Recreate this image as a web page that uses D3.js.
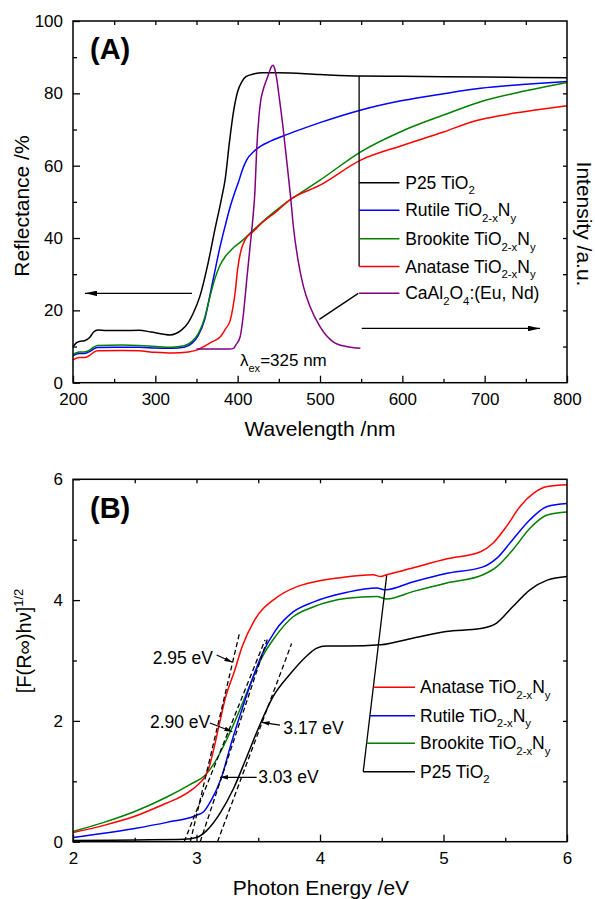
<!DOCTYPE html>
<html><head><meta charset="utf-8">
<script src="https://cdn.jsdelivr.net/npm/d3@7"></script>
<style>
body{margin:0;background:#fff;}
svg{display:block;font-family:"Liberation Sans",Arial,Helvetica,sans-serif;}
</style></head><body>
<svg id="c" width="595" height="899"></svg>
<script>
// ---------- Panel A data (wavelength nm, reflectance %) ----------
const wavelengthMajor = [200,300,400,500,600,700,800];
const wavelengthMinor = [250,350,450,550,650,750];
const reflMajor = [0,20,40,60,80,100];
const reflMinor = [10,30,50,70,90];

const p25Refl = [[200,9.9],[204,11.0],[208,11.4],[214,11.6],[220,12.4],[225,14.0],[230,14.6],[240,14.4],[260,14.4],[280,14.5],[295,14.0],[310,13.4],[318,13.2],[325,13.6],[332,14.6],[340,16.6],[346,19.2],[354,23.8],[364,33.0],[372,42.0],[380,50.5],[385,56.5],[390,66.5],[395,75.0],[400,80.5],[405,83.2],[410,84.6],[420,85.4],[430,85.7],[450,85.7],[500,85.2],[550,84.8],[600,84.7],[700,84.5],[800,84.3]];
const rutileRefl = [[200,7.4],[204,7.9],[208,8.1],[214,8.1],[220,8.6],[225,9.3],[230,9.7],[250,9.8],[280,9.8],[300,9.6],[320,9.5],[335,9.8],[345,11.0],[352,13.0],[360,17.5],[366,23.8],[372,30.5],[378,37.0],[385,43.5],[391,48.7],[396,52.3],[401,55.5],[406,59.0],[411,61.6],[420,64.0],[428,65.4],[440,66.8],[455,68.2],[475,69.9],[500,71.9],[550,75.4],[600,78.0],[650,79.9],[695,81.4],[750,82.5],[800,83.3]];
const brookiteRefl = [[200,7.8],[204,8.3],[208,8.5],[214,8.5],[220,9.0],[225,9.8],[230,10.3],[260,10.4],[280,10.3],[300,10.0],[320,9.8],[335,10.2],[345,11.5],[352,13.5],[360,18.0],[366,23.5],[372,28.5],[378,32.2],[385,34.9],[391,36.4],[396,37.6],[403,38.8],[419,42.2],[447,47.7],[463,50.5],[476,52.4],[500,56.0],[550,63.9],[600,69.6],[650,74.0],[695,77.7],[750,80.7],[800,83.0]];
const anataseRefl = [[200,6.3],[204,6.8],[208,7.0],[214,7.0],[220,7.5],[225,8.4],[230,8.8],[260,8.9],[280,8.8],[300,8.4],[320,8.2],[340,8.5],[350,9.0],[362,10.4],[370,11.4],[379,12.7],[385,14.8],[391,17.3],[394,20.5],[397,25.0],[400,31.5],[404,36.5],[409,39.5],[419,41.8],[430,44.3],[447,47.3],[463,50.5],[500,54.6],[550,61.6],[600,65.6],[650,69.3],[686,72.2],[702,73.1],[750,75.0],[800,76.6]];
const caAlEmission = [[350,9.3],[370,9.3],[390,9.3],[395,9.5],[398,10.5],[403,12.7],[407,19.0],[411,28.4],[415,37.5],[419,46.8],[421,53.0],[423,64.0],[426,74.0],[428,78.0],[431,81.0],[435,83.7],[438,85.6],[441,87.4],[443,87.8],[445,86.8],[447,84.6],[451,78.0],[455,70.8],[459,62.5],[464,52.0],[468,42.5],[474,33.0],[480,26.5],[488,21.0],[500,15.5],[516,11.3],[532,10.0],[549,9.5]];

// ---------- Panel B data (photon energy eV, [F(R)hv]^1/2) ----------
const energyMajor = [2,3,4,5,6];
const energyMinor = [2.5,3.5,4.5,5.5];
const kmMajor = [0,2,4,6];
const kmMinor = [1,3,5];

const anataseF = [[2.0,0.15],[2.25,0.27],[2.5,0.42],[2.76,0.64],[2.83,0.70],[2.95,0.84],[3.02,0.96],[3.07,1.08],[3.10,1.22],[3.13,1.45],[3.18,1.90],[3.23,2.35],[3.31,2.84],[3.37,3.23],[3.47,3.67],[3.64,4.03],[3.80,4.21],[3.95,4.30],[4.16,4.37],[4.43,4.42],[4.49,4.39],[4.54,4.42],[4.75,4.53],[5.02,4.68],[5.30,4.80],[5.40,4.94],[5.51,5.22],[5.62,5.55],[5.73,5.77],[5.84,5.88],[6.0,5.91]];
const rutileF = [[2.0,0.07],[2.25,0.14],[2.5,0.22],[2.76,0.32],[2.99,0.43],[3.06,0.50],[3.12,0.69],[3.20,1.05],[3.28,1.62],[3.37,2.20],[3.45,2.68],[3.53,3.10],[3.64,3.50],[3.78,3.80],[3.95,3.97],[4.22,4.13],[4.46,4.20],[4.53,4.17],[4.75,4.30],[5.02,4.44],[5.32,4.55],[5.43,4.69],[5.56,5.00],[5.70,5.33],[5.84,5.55],[6.0,5.60]];
const brookiteF = [[2.0,0.17],[2.25,0.32],[2.5,0.50],[2.76,0.74],[2.95,0.95],[3.07,1.10],[3.15,1.32],[3.23,1.63],[3.34,2.13],[3.45,2.68],[3.53,3.05],[3.64,3.40],[3.78,3.72],[3.95,3.89],[4.22,4.03],[4.46,4.06],[4.54,4.02],[4.75,4.14],[5.02,4.28],[5.32,4.42],[5.43,4.55],[5.56,4.83],[5.70,5.19],[5.84,5.41],[6.0,5.46]];
const p25F = [[2.0,0.02],[2.5,0.03],[2.9,0.04],[3.0,0.07],[3.08,0.18],[3.19,0.47],[3.30,0.88],[3.41,1.42],[3.51,1.92],[3.62,2.40],[3.76,2.78],[3.89,3.07],[3.97,3.20],[4.05,3.24],[4.22,3.24],[4.49,3.26],[4.75,3.37],[5.02,3.48],[5.30,3.53],[5.43,3.62],[5.56,3.89],[5.70,4.17],[5.84,4.33],[6.0,4.39]];

// tangent (dashed) lines: [start, end]
const tangentAnatase = [[2.95,0],[3.35,3.47]];
const tangentBrookite = [[2.90,0],[3.555,3.34]];
const tangentRutile = [[3.03,0],[3.58,3.39]];
const tangentP25 = [[3.17,0],[3.77,3.28]];

// band-gap annotations: text position and arrow [from, to]
const gapLabels = ["2.95 eV","2.90 eV","3.17 eV","3.03 eV"];
const gapTextPos = [[2.645,2.94],[2.623,1.89],[3.703,1.79],[3.50,0.97]];
const gapArrows = [[[3.163,3.09],[3.29,2.97]],[[3.109,1.966],[3.29,1.82]],[[3.676,1.93],[3.528,1.977]],[[3.487,1.066],[3.19,1.066]]];

const colors = {p25:"#000000", rutile:"#0000ff", brookite:"#008000", anatase:"#ff0000", caal:"#800080"};

// ---------- drawing ----------
const svg = d3.select("#c");
const defs = svg.append("defs");
function marker(id, len, wid){
  defs.append("marker").attr("id",id).attr("viewBox",`0 0 ${len} ${wid}`)
    .attr("refX",len).attr("refY",wid/2).attr("markerWidth",len).attr("markerHeight",wid)
    .attr("markerUnits","userSpaceOnUse").attr("orient","auto")
    .append("path").attr("d",`M0,0L${len},${wid/2}L0,${wid}Z`).attr("fill","#000");
}
marker("ahA",12,5.5);
marker("ahB",8,4.5);

function rich(sel, parts, size){
  let off = 0;
  parts.forEach(([t,k])=>{
    const target = k==="sub" ? 0.33*size : (k==="sup" ? -0.4*size : 0);
    const fs = k ? size*0.65 : size;
    sel.append("tspan").attr("dy", target-off).attr("font-size", fs).text(t);
    off = target;
  });
}

function axes(g, x, y, o){
  const [x0,x1] = x.range(), [y0,y1] = y.range();
  const fix = s => { s.attr("font-size",17).attr("font-family",null);
    s.select(".domain").remove(); s.selectAll(".tick line").attr("stroke-width",1.3);
    s.selectAll(".tick text").attr("fill","#000"); };
  g.append("g").attr("transform",`translate(0,${y0})`)
    .call(d3.axisBottom(x).tickValues(o.xMajor).tickSizeInner(-7).tickSizeOuter(0).tickPadding(10).tickFormat(d3.format("d"))).call(fix);
  g.append("g").attr("transform",`translate(0,${y0})`)
    .call(d3.axisBottom(x).tickValues(o.xMinor).tickSizeInner(-4).tickSizeOuter(0).tickFormat("")).call(fix);
  g.append("g").attr("transform",`translate(${x0},0)`)
    .call(d3.axisLeft(y).tickValues(o.yMajor).tickSizeInner(-7).tickSizeOuter(0).tickPadding(10).tickFormat(d3.format("d"))).call(fix);
  g.append("g").attr("transform",`translate(${x0},0)`)
    .call(d3.axisLeft(y).tickValues(o.yMinor).tickSizeInner(-4).tickSizeOuter(0).tickFormat("")).call(fix);
  g.append("g").attr("transform",`translate(0,${y1})`)
    .call(d3.axisTop(x).tickValues(o.xTop).tickSizeInner(-4).tickSizeOuter(0).tickFormat("")).call(fix);
  g.append("g").attr("transform",`translate(${x1},0)`)
    .call(d3.axisRight(y).tickValues(o.yRight).tickSizeInner(-4).tickSizeOuter(0).tickFormat("")).call(fix);
  g.append("rect").attr("x",x0).attr("y",y1).attr("width",x1-x0).attr("height",y0-y1)
    .attr("fill","none").attr("stroke","#000").attr("stroke-width",1.5);
}

// ===== Panel A =====
const xA = d3.scaleLinear([200,800],[73,567]);
const yA = d3.scaleLinear([0,100],[382.7,21]);
const gA = svg.append("g");
const lineA = d3.line().x(d=>xA(d[0])).y(d=>yA(d[1])).curve(d3.curveMonotoneX);
[[p25Refl,colors.p25],[rutileRefl,colors.rutile],[brookiteRefl,colors.brookite],[anataseRefl,colors.anatase],[caAlEmission,colors.caal]]
  .forEach(([d,c])=>gA.append("path").attr("d",lineA(d)).attr("fill","none").attr("stroke",c).attr("stroke-width",1.5));

axes(gA, xA, yA, {xMajor:wavelengthMajor, xMinor:wavelengthMinor, yMajor:reflMajor, yMinor:reflMinor,
  xTop:[...wavelengthMajor,...wavelengthMinor].filter(v=>v>200&&v<800), yRight:[10,20,30,40,50,60,70,80,90]});

// arrows indicating axes
gA.append("line").attr("x1",xA(344.5)).attr("y1",yA(24.7)).attr("x2",xA(214.6)).attr("y2",yA(24.7))
  .attr("stroke","#000").attr("stroke-width",1.3).attr("marker-end","url(#ahA)");
gA.append("line").attr("x1",xA(550.7)).attr("y1",yA(15.0)).attr("x2",xA(767.2)).attr("y2",yA(15.0))
  .attr("stroke","#000").attr("stroke-width",1.3).attr("marker-end","url(#ahA)");

// legend A
const legA = [
  {c:colors.p25, v:55.3, t:[["P25 TiO",""],["2","sub"]]},
  {c:colors.rutile, v:47.7, t:[["Rutile TiO",""],["2-x","sub"],["N",""],["y","sub"]]},
  {c:colors.brookite, v:39.8, t:[["Brookite TiO",""],["2-x","sub"],["N",""],["y","sub"]]},
  {c:colors.anatase, v:32.1, t:[["Anatase TiO",""],["2-x","sub"],["N",""],["y","sub"]]},
  {c:colors.caal, v:24.7, t:[["CaAl",""],["2","sub"],["O",""],["4","sub"],[":(Eu, Nd)",""]]}
];
gA.append("line").attr("x1",xA(547.5)).attr("x2",xA(547.5)).attr("y1",yA(84.8)).attr("y2",yA(32.1))
  .attr("stroke","#000").attr("stroke-width",1.3);
gA.append("line").attr("x1",xA(546.5)).attr("y1",yA(24.7)).attr("x2",xA(499.2)).attr("y2",yA(17.5))
  .attr("stroke","#000").attr("stroke-width",1.3);
legA.forEach(e=>{
  gA.append("line").attr("x1",xA(547.5)).attr("x2",xA(596.5)).attr("y1",yA(e.v)).attr("y2",yA(e.v))
    .attr("stroke",e.c).attr("stroke-width",1.5);
  const t = gA.append("text").attr("x",xA(603.5)).attr("y",yA(e.v)+6).attr("font-size",17.5);
  rich(t, e.t, 17.5);
});
{
  const t = gA.append("text").attr("x",xA(402.8)).attr("y",yA(4.6)).attr("font-size",17);
  rich(t, [["λ",""],["ex","sub"],["=325 nm",""]], 17);
}
gA.append("text").attr("x",90).attr("y",59).attr("font-size",29).attr("font-weight","bold").text("(A)");
gA.append("text").attr("transform","translate(28.5,206) rotate(-90)").attr("text-anchor","middle").attr("font-size",21).text("Reflectance /%");
gA.append("text").attr("transform","translate(577,224) rotate(90)").attr("text-anchor","middle").attr("font-size",21).text("Intensity /a.u.");
gA.append("text").attr("x",320).attr("y",436).attr("text-anchor","middle").attr("font-size",21).text("Wavelength /nm");

// ===== Panel B =====
const xB = d3.scaleLinear([2,6],[73,567]);
const yB = d3.scaleLinear([0,6],[841.7,479.3]);
const gB = svg.append("g");
const lineB = d3.line().x(d=>xB(d[0])).y(d=>yB(d[1])).curve(d3.curveMonotoneX);
[[p25F,colors.p25],[brookiteF,colors.brookite],[rutileF,colors.rutile],[anataseF,colors.anatase]]
  .forEach(([d,c])=>gB.append("path").attr("d",lineB(d)).attr("fill","none").attr("stroke",c).attr("stroke-width",1.5));
[tangentAnatase,tangentBrookite,tangentRutile,tangentP25].forEach(d=>
  gB.append("path").attr("d",d3.line().x(p=>xB(p[0])).y(p=>yB(p[1]))(d)).attr("fill","none")
    .attr("stroke","#000").attr("stroke-width",1.3).attr("stroke-dasharray","5,3"));

axes(gB, xB, yB, {xMajor:energyMajor, xMinor:energyMinor, yMajor:kmMajor, yMinor:kmMinor,
  xTop:[3,4,5,...energyMinor], yRight:[1,2,3,4,5]});

gapLabels.forEach((lab,i)=>{
  gB.append("text").attr("x",xB(gapTextPos[i][0])).attr("y",yB(gapTextPos[i][1])).attr("font-size",17.5).text(lab);
  const a = gapArrows[i];
  gB.append("line").attr("x1",xB(a[0][0])).attr("y1",yB(a[0][1])).attr("x2",xB(a[1][0])).attr("y2",yB(a[1][1]))
    .attr("stroke","#000").attr("stroke-width",1.2).attr("marker-end","url(#ahB)");
});

// legend B
const legB = [
  {c:colors.anatase, v:2.556, t:[["Anatase TiO",""],["2-x","sub"],["N",""],["y","sub"]]},
  {c:colors.rutile, v:2.086, t:[["Rutile TiO",""],["2-x","sub"],["N",""],["y","sub"]]},
  {c:colors.brookite, v:1.629, t:[["Brookite TiO",""],["2-x","sub"],["N",""],["y","sub"]]},
  {c:colors.p25, v:1.159, t:[["P25 TiO",""],["2","sub"]]}
];
const slTop = [4.54,4.41], slBot = [4.35,1.159];
gB.append("line").attr("x1",xB(slTop[0])).attr("y1",yB(slTop[1])).attr("x2",xB(slBot[0])).attr("y2",yB(slBot[1]))
  .attr("stroke","#000").attr("stroke-width",1.3);
legB.forEach(e=>{
  const f = (e.v-slBot[1])/(slTop[1]-slBot[1]);
  const xs = slBot[0] + f*(slTop[0]-slBot[0]);
  gB.append("line").attr("x1",xB(xs)).attr("x2",xB(4.769)).attr("y1",yB(e.v)).attr("y2",yB(e.v))
    .attr("stroke",e.c).attr("stroke-width",1.5);
  const t = gB.append("text").attr("x",xB(4.81)).attr("y",yB(e.v)+6).attr("font-size",17.5);
  rich(t, e.t, 17.5);
});
gB.append("text").attr("x",90).attr("y",518).attr("font-size",29).attr("font-weight","bold").text("(B)");
{
  const t = gB.append("text").attr("transform","translate(31,641) rotate(-90)").attr("text-anchor","middle").attr("font-size",20);
  rich(t, [["[F(R∞)hν]",""],["1/2","sup"]], 20);
}
gB.append("text").attr("x",321).attr("y",895).attr("text-anchor","middle").attr("font-size",21).text("Photon Energy /eV");
</script></body></html>
